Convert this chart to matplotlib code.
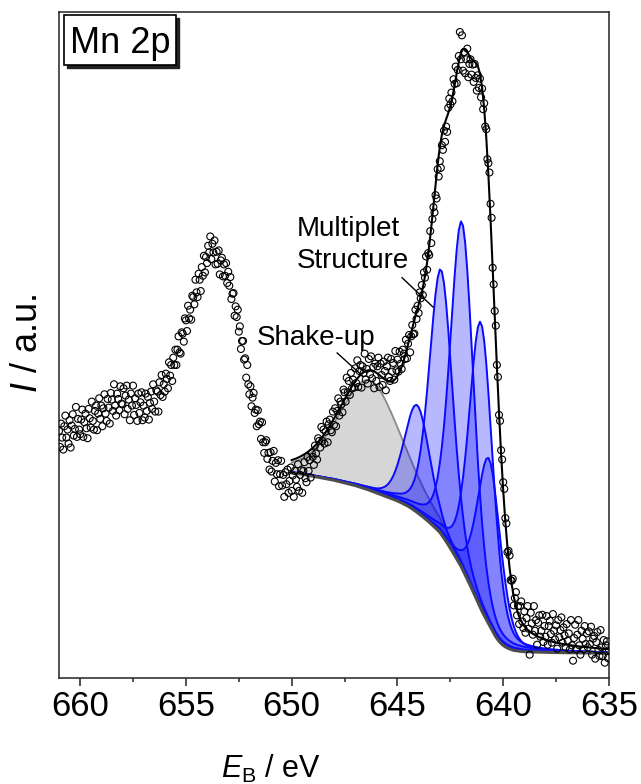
import numpy as np
import matplotlib
matplotlib.use('Agg')
import matplotlib.pyplot as plt
import matplotlib.transforms as mtransforms
from matplotlib.patches import Rectangle
from matplotlib.ticker import MultipleLocator, FixedLocator

# ---------------- data ----------------
energy = np.round(np.arange(661.0, 634.99, -0.05), 2)   # binding energy grid (eV)
intensity = [
    37.1, 34.7, 38.2, 36.1, 34.3, 37.8, 39.4, 36.1, 37.3, 35.2, 38.7, 34.6, 37.9, 39.6, 36.4, 37.4, 40.7, 36.2, 38.9, 37.3,
    36.6, 38.8, 40.3, 36.2, 38.4, 39.7, 37.5, 36.0, 40.4, 39.0, 37.6, 41.5, 38.6, 37.3, 40.1, 40.9, 37.2, 39.7, 42.0, 38.9,
    40.9, 37.8, 40.5, 42.6, 39.7, 38.6, 41.9, 40.6, 38.2, 42.8, 41.8, 40.1, 44.1, 40.9, 39.4, 42.7, 41.9, 40.2, 43.8, 41.2,
    41.1, 43.5, 39.6, 42.4, 43.9, 40.4, 41.8, 38.7, 42.7, 40.9, 43.9, 39.5, 42.0, 41.0, 38.6, 42.7, 39.8, 41.4, 42.9, 38.7,
    40.9, 39.1, 42.7, 40.1, 42.2, 38.8, 41.3, 43.0, 40.4, 44.1, 41.5, 40.0, 43.2, 43.0, 40.0, 44.4, 42.5, 45.5, 42.2, 44.1,
    43.0, 45.7, 44.9, 43.5, 47.4, 45.4, 47.0, 44.6, 48.1, 47.0, 49.3, 47.0, 49.3, 51.3, 48.9, 48.7, 51.9, 51.7, 50.5, 54.0,
    53.7, 52.1, 55.9, 54.0, 55.3, 53.8, 57.4, 57.2, 56.1, 59.8, 57.9, 57.2, 60.7, 59.8, 58.1, 61.7, 60.4, 63.4, 60.9, 63.2,
    62.3, 64.9, 63.9, 66.3, 62.9, 65.2, 63.9, 65.7, 62.1, 64.0, 62.2, 64.2, 60.6, 62.7, 63.1, 60.3, 62.1, 60.4, 62.3, 59.3,
    61.0, 58.9, 60.2, 56.9, 57.7, 57.8, 54.4, 55.8, 54.2, 55.3, 52.0, 52.8, 49.4, 50.6, 50.6, 47.8, 48.0, 45.1, 47.0, 44.1,
    42.6, 43.8, 40.8, 42.1, 42.8, 39.8, 40.3, 37.8, 40.2, 38.1, 38.5, 35.9, 38.4, 35.4, 33.8, 35.4, 35.7, 32.9, 33.8, 31.3,
    33.9, 31.0, 32.6, 34.1, 29.5, 32.3, 30.6, 32.7, 28.8, 30.6, 32.6, 28.9, 30.5, 27.2, 30.9, 29.1, 31.3, 27.8, 29.6, 31.6,
    28.1, 30.4, 27.2, 31.1, 29.8, 28.7, 32.1, 28.1, 30.5, 31.2, 27.8, 31.1, 32.4, 30.0, 29.4, 33.2, 31.1, 32.7, 30.1, 33.8,
    33.2, 32.0, 34.9, 33.7, 32.8, 36.0, 35.6, 34.6, 37.7, 35.6, 37.3, 35.2, 37.0, 38.5, 35.4, 38.1, 38.8, 37.2, 36.9, 40.0,
    38.0, 40.5, 37.8, 40.1, 42.0, 39.4, 41.5, 41.1, 39.9, 43.3, 42.9, 41.5, 45.1, 42.9, 44.6, 42.5, 45.8, 43.5, 44.8, 43.6,
    46.5, 44.3, 47.7, 43.7, 46.1, 47.0, 43.6, 46.8, 45.8, 48.7, 44.8, 46.4, 44.2, 47.9, 45.6, 48.3, 45.0, 46.7, 43.5, 47.2,
    44.6, 46.8, 48.1, 43.7, 47.2, 45.5, 44.0, 47.5, 46.1, 43.2, 46.8, 48.1, 45.2, 44.6, 47.9, 46.0, 47.3, 44.8, 49.1, 46.2,
    47.8, 46.0, 49.0, 47.2, 46.4, 49.3, 48.7, 47.9, 50.8, 48.0, 50.2, 51.5, 48.9, 51.3, 53.0, 51.6, 51.7, 55.3, 53.9, 55.9,
    54.8, 57.9, 57.0, 59.0, 57.5, 60.9, 60.1, 63.3, 61.3, 63.8, 63.5, 67.1, 65.3, 68.9, 70.7, 69.9, 72.5, 72.0, 76.4, 75.3,
    77.6, 76.6, 80.0, 79.3, 82.2, 80.5, 82.8, 82.0, 85.6, 87.0, 86.1, 87.9, 86.6, 89.9, 89.2, 91.8, 89.3, 91.3, 93.4, 97.0,
    92.9, 96.5, 91.2, 94.0, 90.8, 92.9, 94.5, 90.2, 92.2, 92.9, 90.6, 92.1, 89.5, 92.2, 90.1, 88.2, 90.5, 88.6, 90.0, 87.2,
    88.5, 85.4, 86.3, 82.8, 82.4, 77.9, 77.3, 75.9, 71.2, 69.1, 61.6, 59.1, 55.1, 52.9, 47.0, 45.2, 39.5, 38.6, 34.2, 32.8,
    29.4, 28.4, 24.0, 23.2, 18.9, 19.1, 18.4, 14.7, 14.6, 14.9, 10.9, 12.0, 12.9, 9.4, 10.8, 8.1, 10.8, 11.5, 8.5, 7.5,
    10.0, 6.8, 9.0, 10.8, 7.4, 3.5, 9.8, 8.2, 6.5, 10.8, 7.1, 8.7, 5.0, 8.3, 9.4, 6.2, 7.1, 9.5, 5.4, 7.8,
    6.2, 9.3, 5.0, 7.8, 8.6, 6.6, 5.3, 9.6, 7.1, 5.8, 7.9, 4.4, 8.7, 6.1, 7.2, 9.1, 5.3, 7.6, 6.4, 4.6,
    8.1, 5.6, 6.7, 4.3, 8.7, 4.9, 2.6, 6.0, 8.0, 4.3, 6.5, 8.7, 4.9, 3.5, 7.1, 5.9, 4.3, 7.8, 5.1, 6.7,
    4.6, 7.0, 5.1, 7.7, 3.5, 5.9, 6.3, 2.9, 5.4, 6.9, 4.2, 3.3, 7.2, 4.6, 3.3, 5.7, 2.3, 4.9, 5.5, 3.0,
    4.2,
]

fit_energy = np.round(np.arange(650.0, 634.95, -0.1), 1)
background = [
    30.80, 30.76, 30.72, 30.68, 30.64, 30.60, 30.54, 30.48, 30.42, 30.36,
    30.30, 30.24, 30.18, 30.12, 30.06, 30.00, 29.94, 29.88, 29.82, 29.76,
    29.70, 29.62, 29.54, 29.46, 29.38, 29.30, 29.22, 29.14, 29.06, 28.98,
    28.90, 28.80, 28.70, 28.60, 28.50, 28.40, 28.29, 28.17, 28.05, 27.93,
    27.80, 27.68, 27.56, 27.44, 27.32, 27.20, 27.08, 26.96, 26.84, 26.72,
    26.60, 26.45, 26.29, 26.13, 25.97, 25.80, 25.60, 25.39, 25.17, 24.94,
    24.70, 24.45, 24.20, 23.94, 23.67, 23.40, 23.11, 22.81, 22.50, 22.20,
    21.90, 21.45, 20.98, 20.50, 20.01, 19.50, 18.97, 18.43, 17.89, 17.35,
    16.80, 16.15, 15.49, 14.83, 14.17, 13.50, 12.80, 12.10, 11.40, 10.70,
    10.00, 9.38, 8.78, 8.19, 7.59, 7.00, 6.45, 5.95, 5.52, 5.17,
    4.90, 4.68, 4.51, 4.37, 4.25, 4.15, 4.10, 4.05, 4.01, 3.98,
    3.95, 3.94, 3.93, 3.92, 3.91, 3.90, 3.89, 3.88, 3.87, 3.86,
    3.85, 3.84, 3.84, 3.83, 3.83, 3.82, 3.82, 3.81, 3.81, 3.80,
    3.80, 3.80, 3.79, 3.79, 3.78, 3.78, 3.77, 3.77, 3.76, 3.76,
    3.75, 3.75, 3.74, 3.74, 3.73, 3.73, 3.72, 3.72, 3.71, 3.71, 3.70,
]

# fitted components: centre / height above background / FWHM
shake_center, shake_height, shake_fwhm, shake_eta = 646.3, 16.5, 3.5, 0.35
mult_centers = [644.07, 642.94, 641.95, 641.05, 640.67]
mult_heights = [16.1, 39.7, 52.0, 43.0, 24.9]
mult_fwhm = [1.45, 1.3, 1.3, 1.3, 1.3]
mult_eta = 0.3

xticks = [660, 655, 650, 645, 640, 635]

# ---------------- helpers ----------------
def pseudo_voigt(x, c, h, w, eta):
    g = np.exp(-4.0 * np.log(2.0) * ((x - c) / w) ** 2)
    l = 1.0 / (1.0 + 4.0 * ((x - c) / w) ** 2)
    return h * (eta * l + (1.0 - eta) * g)

plt.rcParams['font.family'] = ['Liberation Sans', 'DejaVu Sans']
plt.rcParams['mathtext.fontset'] = 'custom'
plt.rcParams['mathtext.it'] = 'Liberation Sans:italic'
plt.rcParams['mathtext.rm'] = 'Liberation Sans'

W, H = 641, 784
fig = plt.figure(figsize=(W / 100, H / 100), dpi=100)
ax = fig.add_axes([59 / W, 1 - 678 / H, 550 / W, 666 / H])

bg = np.array(background)
x = fit_energy

shake = pseudo_voigt(x, shake_center, shake_height, shake_fwhm, shake_eta)
ax.fill_between(x, bg, bg + shake, color='#d6d6d6', lw=0, zorder=1)
ax.plot(x, bg + shake, color='#8a8a8a', lw=1.3, zorder=1.5)

total = bg + shake
for c, h, w in zip(mult_centers, mult_heights, mult_fwhm):
    p = pseudo_voigt(x, c, h, w, mult_eta)
    total = total + p
    ax.fill_between(x, bg, bg + p, color='#0000ff', alpha=0.28, lw=0, zorder=2)
    ax.plot(x, bg + p, color='#0a0aff', lw=1.4, zorder=2.5)

ax.plot(x, bg, color='#4d4d4d', lw=2.2, zorder=3)

ax.scatter(energy, intensity, s=25, facecolors='none', edgecolors='black',
           linewidths=0.8, zorder=4)
ax.plot(x, total, color='black', lw=1.5, zorder=5)

# annotations
ax.text(651.64, 50.0, 'Shake-up', fontsize=20, ha='left', va='baseline', zorder=6)
ax.plot([647.85, 646.63], [48.8, 45.3], color='black', lw=1.0, zorder=6)
ax.text(649.74, 66.4, 'Multiplet', fontsize=20, ha='left', va='baseline', zorder=6)
ax.text(649.74, 61.6, 'Structure', fontsize=20, ha='left', va='baseline', zorder=6)
ax.plot([644.78, 643.32], [60.1, 55.7], color='black', lw=1.0, zorder=6)

# label box with drop shadow
bx0, by0, bw, bh = 5 / 550, 613 / 666, 112 / 550, 50 / 666
shadow_tr = ax.transAxes + mtransforms.ScaledTranslation(2.5 / 100, -2.5 / 100, fig.dpi_scale_trans)
ax.add_patch(Rectangle((bx0, by0), bw, bh, transform=shadow_tr, fc='#222222', ec='#222222',
                       lw=1.0, zorder=9, clip_on=False))
ax.add_patch(Rectangle((bx0, by0), bw, bh, transform=ax.transAxes, fc='white', ec='black',
                       lw=1.2, zorder=10, clip_on=False))
ax.text(bx0 + bw / 2, 0.9385, 'Mn 2p', transform=ax.transAxes, fontsize=26, ha='center',
        va='baseline', color='black', zorder=11)

# axes styling
ax.set_xlim(661, 635)
ax.set_ylim(0, 100)
ax.xaxis.set_major_locator(FixedLocator(xticks))
ax.xaxis.set_minor_locator(MultipleLocator(2.5))
ax.tick_params(axis='x', which='major', direction='out', length=5.5, width=1.2,
               labelsize=25, pad=3, top=False, color='#333333')
ax.tick_params(axis='x', which='minor', direction='out', length=3.1, width=1.2,
               top=False, color='#333333')
ax.tick_params(axis='y', which='both', left=False, right=False, labelleft=False)
for s in ax.spines.values():
    s.set_linewidth(1.2)
    s.set_color('#333333')

ax.text(0.385, -0.150, r'$E_\mathrm{B}$ / eV', transform=ax.transAxes, fontsize=22,
        ha='center', va='baseline')
ax.text(-0.058, 0.503, r'$I$ / a.u.', transform=ax.transAxes, fontsize=26, rotation=90,
        ha='center', va='center')

fig.savefig('out.png', dpi=100)
